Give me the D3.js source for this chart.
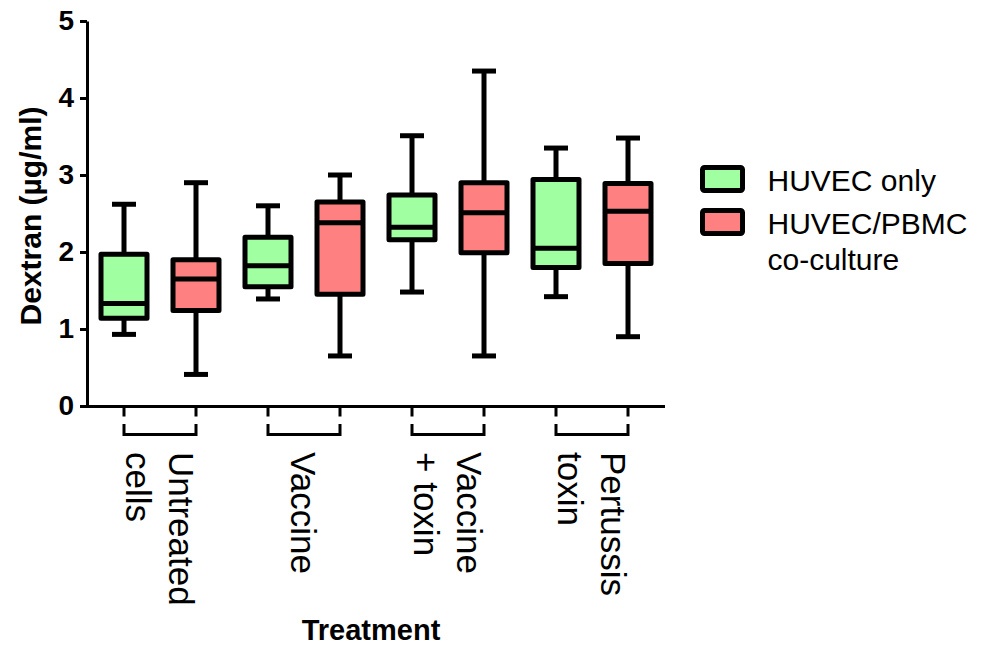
<!DOCTYPE html>
<html>
<meta charset="utf-8">
<head>
  <script src="https://d3js.org/d3.v7.min.js"></script>
  <style>
    body { margin: 0; background: #fff; }
    text { font-family: Arial, "Liberation Sans", sans-serif; fill: #000; }
    .axis path, .axis line { stroke: #000; }
    .box { stroke: #000; stroke-width: 5; stroke-linejoin: round; }
  </style>
</head>
<body>
<div id="chart"></div>
<script>
  "use strict"

  // groups on the x axis, and the two series drawn inside each group
  var groups = ["Untreated cells", "Vaccine", "Vaccine + toxin", "Pertussis toxin"];
  var groupLines = [["Untreated", "cells"], ["Vaccine"], ["Vaccine", "+ toxin"], ["Pertussis", "toxin"]];
  var series = ["HUVEC only", "HUVEC/PBMC co-culture"];
  var seriesLines = [["HUVEC only"], ["HUVEC/PBMC", "co-culture"]];
  var seriesColors = ["#a0ffa0", "#ff8080"];

  // five number summaries, one entry per group: [min, q1, median, q3, max]
  var huvecOnly = [
    [0.93, 1.14, 1.33, 1.97, 2.62],
    [1.39, 1.55, 1.82, 2.19, 2.60],
    [1.48, 2.16, 2.32, 2.74, 3.51],
    [1.42, 1.80, 2.05, 2.94, 3.35]
  ];
  var coCulture = [
    [0.41, 1.24, 1.65, 1.90, 2.90],
    [0.65, 1.45, 2.38, 2.65, 3.00],
    [0.65, 1.99, 2.51, 2.90, 4.35],
    [0.90, 1.85, 2.53, 2.89, 3.48]
  ];
  var yTicks = [0, 1, 2, 3, 4, 5];

  var width = 982, height = 646;

  var svg = d3.select("#chart").append("svg")
      .attr("width", width)
      .attr("height", height);

  var y = d3.scaleLinear().domain([0, 5]).range([406, 21]);

  var xGroup = d3.scaleBand().domain(groups).range([88, 664]);
  var xSeries = d3.scaleBand().domain(series).range([0, xGroup.bandwidth()]);

  // flat scale for the tick marks under each box
  var keys = [];
  groups.forEach(function(g) { series.forEach(function(s) { keys.push(g + "|" + s); }); });
  var xTick = d3.scaleBand().domain(keys).range([88, 664]);

  var boxes = [];
  groups.forEach(function(g, i) {
    boxes.push({ group: g, s: 0, v: huvecOnly[i] });
    boxes.push({ group: g, s: 1, v: coCulture[i] });
  });
  function cx(d) { return xGroup(d.group) + xSeries(series[d.s]) + xSeries.bandwidth() / 2; }

  var boxW = 46, capW = 24;

  var b = svg.append("g").selectAll("g").data(boxes).enter().append("g");

  // whiskers
  b.append("line")
      .attr("x1", cx).attr("x2", cx)
      .attr("y1", function(d) { return y(d.v[4]); })
      .attr("y2", function(d) { return y(d.v[0]); })
      .attr("stroke", "#000").attr("stroke-width", 5);
  [0, 4].forEach(function(k) {
    b.append("line")
        .attr("x1", function(d) { return cx(d) - capW / 2; })
        .attr("x2", function(d) { return cx(d) + capW / 2; })
        .attr("y1", function(d) { return y(d.v[k]); })
        .attr("y2", function(d) { return y(d.v[k]); })
        .attr("stroke", "#000").attr("stroke-width", 5);
  });

  // boxes
  b.append("rect")
      .attr("class", "box")
      .attr("x", function(d) { return cx(d) - boxW / 2; })
      .attr("width", boxW)
      .attr("y", function(d) { return y(d.v[3]); })
      .attr("height", function(d) { return y(d.v[1]) - y(d.v[3]); })
      .attr("fill", function(d) { return seriesColors[d.s]; });

  // medians
  b.append("line")
      .attr("x1", function(d) { return cx(d) - boxW / 2; })
      .attr("x2", function(d) { return cx(d) + boxW / 2; })
      .attr("y1", function(d) { return y(d.v[2]); })
      .attr("y2", function(d) { return y(d.v[2]); })
      .attr("stroke", "#000").attr("stroke-width", 5);

  // y axis
  var yAxis = svg.append("g")
      .attr("class", "axis")
      .attr("transform", "translate(87,0)")
      .call(d3.axisLeft(y).tickValues(yTicks).tickFormat(d3.format("d"))
        .tickSize(7).tickSizeOuter(0).tickPadding(6));
  yAxis.select(".domain").attr("stroke-width", 3);
  yAxis.selectAll(".tick line").attr("stroke-width", 3);
  yAxis.selectAll("text")
      .style("font-size", "28px").style("font-weight", "bold")
      .attr("font-family", null);

  // x axis with a tick under every box
  var xAxis = svg.append("g")
      .attr("class", "axis")
      .attr("transform", "translate(0,406.5)")
      .call(d3.axisBottom(xTick).tickSize(10).tickSizeOuter(0).tickFormat(""));
  xAxis.select(".domain").attr("stroke-width", 3).attr("d", "M86,0H665");
  xAxis.selectAll(".tick line").attr("stroke-width", 3);

  // brackets joining the two boxes of a group
  svg.append("g").selectAll("path").data(groups).enter().append("path")
      .attr("d", function(g) {
        var x0 = xTick(g + "|" + series[0]) + xTick.bandwidth() / 2;
        var x1 = xTick(g + "|" + series[1]) + xTick.bandwidth() / 2;
        return "M" + x0 + ",424V434.5H" + x1 + "V424";
      })
      .attr("fill", "none").attr("stroke", "#000").attr("stroke-width", 3);

  // rotated group labels
  var fs = 35, lh = 43;
  var lab = svg.append("g").selectAll("g").data(groups).enter().append("g")
      .attr("transform", function(g) {
        return "translate(" + (xGroup(g) + xGroup.bandwidth() / 2) + ",452) rotate(90)";
      });
  lab.each(function(g, i) {
    var lines = groupLines[i];
    var n = lines.length;
    d3.select(this).selectAll("text").data(lines).enter().append("text")
        .attr("x", 0)
        .attr("y", function(t, j) { return (j - (n - 1) / 2) * lh + fs * 0.36; })
        .style("font-size", fs + "px")
        .text(function(t) { return t; });
  });

  // axis titles
  svg.append("text")
      .attr("transform", "translate(41,216) rotate(-90)")
      .attr("text-anchor", "middle")
      .style("font-size", "30px").style("font-weight", "bold")
      .text("Dextran (\u00b5g/ml)");

  svg.append("text")
      .attr("x", 371).attr("y", 640)
      .attr("text-anchor", "middle")
      .style("font-size", "29px").style("font-weight", "bold")
      .text("Treatment");

  // legend
  var leg = svg.append("g").selectAll("g").data(series).enter().append("g")
      .attr("transform", function(s, i) { return "translate(702.5," + (167.5 + i * 43) + ")"; });
  leg.append("rect")
      .attr("class", "box")
      .attr("width", 40).attr("height", 23).attr("rx", 2)
      .attr("fill", function(s, i) { return seriesColors[i]; });
  leg.each(function(s, i) {
    d3.select(this).selectAll("text").data(seriesLines[i]).enter().append("text")
        .attr("x", 65)
        .attr("y", function(t, j) { return 23 + j * 36; })
        .style("font-size", "30px")
        .text(function(t) { return t; });
  });
</script>
</body>
</html>
